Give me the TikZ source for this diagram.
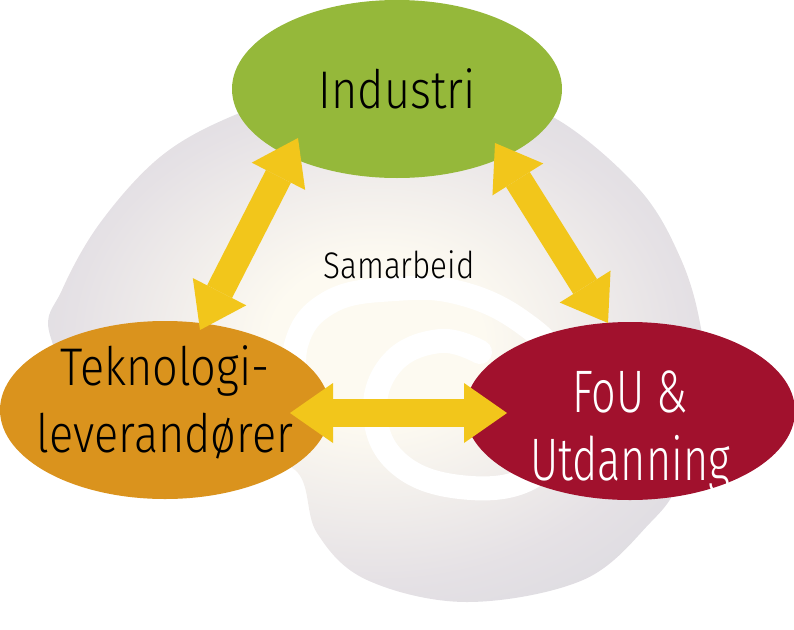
\documentclass[tikz,border=0pt]{standalone}
\usepackage{fontspec}
\setmainfont{Fira Sans Light}[FakeStretch=0.85]
\newfontfamily\narrowfont{Fira Sans Light}[FakeStretch=0.72]
\usetikzlibrary{arrows.meta, positioning, calc, shapes.geometric}
\definecolor{indgreen}{HTML}{95B83A}
\definecolor{tekorange}{HTML}{DA931D}
\definecolor{foured}{HTML}{A1112D}
\definecolor{linkyellow}{HTML}{F2C61B}
\definecolor{hazegray}{HTML}{CFD4D9}
\definecolor{hazemid}{HTML}{D8D8DE}
\definecolor{hazelilac}{HTML}{E5E1E5}
\definecolor{glowcream}{HTML}{FDFAF1}
\pgfdeclareradialshading{samglow}{\pgfpoint{0bp}{0bp}}{color(0bp)=(glowcream); color(8bp)=(glowcream); color(23bp)=(hazelilac); color(34bp)=(hazemid); color(45bp)=(hazegray); color(50bp)=(hazegray)}
\tikzset{
    blob/.style={ellipse, minimum width=330pt, minimum height=178pt, inner sep=-30pt, align=center},
    greenblob/.style={blob, fill=indgreen, font=\fontsize{53}{60}\selectfont},
    orangeblob/.style={blob, fill=tekorange, font=\fontsize{53}{67}\selectfont},
    redblob/.style={blob, fill=foured, text=white, font=\narrowfont\fontsize{60}{68}\selectfont},
    linkarrow/.style={draw=linkyellow, line width=28pt, {Triangle[length=43pt, width=60pt, line width=0pt]}-{Triangle[length=43pt, width=60pt, line width=0pt]}},
    swirl/.style={draw=white, line width=24pt, line cap=round, line join=round}
}
\begin{document}
\begin{tikzpicture}[x=1pt, y=-1pt]
    \useasboundingbox (0,0) rectangle (794,629);
    % grey background with the white swirl
    \shade[shading=samglow] plot[smooth cycle, tension=0.6] coordinates {(50,335) (62,290) (100,223) (160,157) (230,117) (310,92) (400,84) (490,95) (563,123) (640,190) (680,257) (700,323) (706,395) (680,480) (650,523) (583,580) (467,602) (367,580) (317,533) (295,470) (220,452) (100,420)};
    \draw[swirl] plot[smooth, tension=0.7] coordinates {(300,410) (296,345) (330,302) (395,289) (460,293) (522,322) (560,365) (566,430) (530,478) (460,487) (398,463) (375,412) (393,362) (440,341) (480,352)};
    % the three partners
    \node[greenblob] (industri) at (397,89) {Industri};
    \node[orangeblob, text height=100pt, text depth=16pt] (tekno) at ($(industri)+(-232,321)$) {Teknologi-\\leverandører};
    \node[redblob, text height=150pt, text depth=12pt] (fou) at ($(industri)+(233,322)$) {FoU \&\\Utdanning};
    \node[font=\fontsize{37}{40}\selectfont] (samarbeid) at (399,265) {Samarbeid};
    % arrow ends
    \coordinate (ind-w) at ($(industri.center)+(-99,49)$);
    \coordinate (tek-n) at ($(tekno.center)+(35,-80)$);
    \coordinate (ind-e) at ($(industri.center)+(98,54)$);
    \coordinate (fou-n) at ($(fou.center)+(-22,-88)$);
    \coordinate (tek-e) at ($(tekno.center)+(125,3)$);
    \coordinate (fou-w) at ($(fou.center)+(-123,2)$);
    \draw[linkarrow] (ind-w) -- (tek-n);
    \draw[linkarrow] (ind-e) -- (fou-n);
    \draw[linkarrow] (tek-e) -- (fou-w);
\end{tikzpicture}
\end{document}
